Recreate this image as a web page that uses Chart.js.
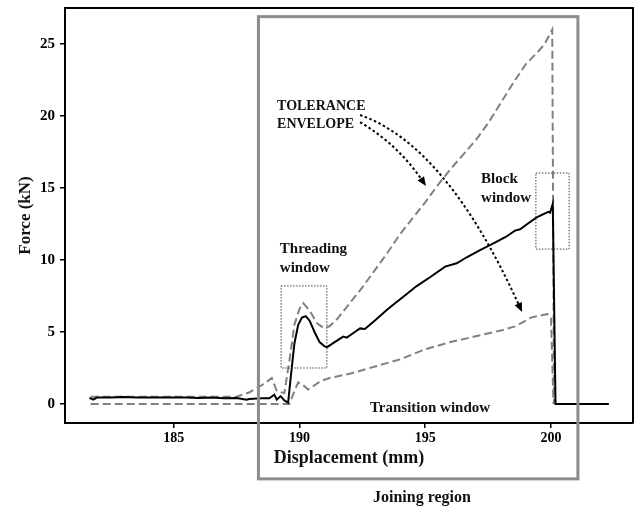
<!DOCTYPE html>
<html>
<head>
<meta charset="utf-8">
<script src="https://cdn.jsdelivr.net/npm/chart.js@4/dist/chart.umd.min.js"></script>
<style>
  html, body { margin: 0; padding: 0; background: #fff; }
  #wrap { width: 635px; height: 509px; }
</style>
</head>
<body>
<div id="wrap"><canvas id="chart" width="635" height="509"></canvas></div>
<script>
// Force vs displacement
const measuredX = [181.65, 181.8, 181.95, 182.5, 183.0, 183.5, 184.0, 184.5, 185.0, 185.5, 186.0, 186.5, 187.0, 187.5, 187.9, 188.0, 188.5, 188.8, 189.0, 189.1, 189.25, 189.4, 189.55, 189.65, 189.8, 189.95, 190.1, 190.25, 190.4, 190.6, 190.8, 191.0, 191.1, 191.4, 191.74, 191.88, 192.2, 192.41, 192.6, 193.0, 193.47, 193.8, 194.13, 194.66, 195.19, 195.79, 196.25, 196.65, 197.18, 197.71, 198.2, 198.57, 198.77, 199.1, 199.43, 199.89, 199.96, 200.07, 200.18, 202.3];
const measuredY = [0.42, 0.3, 0.45, 0.45, 0.48, 0.45, 0.45, 0.45, 0.45, 0.45, 0.42, 0.45, 0.4, 0.42, 0.3, 0.35, 0.4, 0.4, 0.65, 0.3, 0.55, 0.25, 0.1, 1.8, 4.2, 5.5, 6.0, 6.1, 5.8, 5.0, 4.3, 4.0, 3.95, 4.3, 4.68, 4.61, 5.0, 5.25, 5.21, 5.8, 6.53, 7.0, 7.45, 8.19, 8.8, 9.54, 9.77, 10.19, 10.69, 11.16, 11.6, 12.04, 12.13, 12.55, 12.96, 13.35, 13.28, 13.9, 0, 0];

const upperX = [181.7, 187.5, 188.0, 188.5, 188.9, 189.1, 189.4, 189.6, 189.8, 190.0, 190.15, 190.4, 190.7, 190.95, 191.2, 191.5, 192.0, 192.5, 193.0, 193.5, 194.0, 194.5, 195.0, 195.5, 196.0, 196.5, 197.0, 197.5, 198.0, 198.5, 199.0, 199.5, 199.75, 199.9, 200.05, 200.12];
const upperY = [0.5, 0.5, 0.8, 1.3, 1.8, 0.9, 0.75, 3.0, 5.5, 6.6, 7.0, 6.5, 5.6, 5.3, 5.4, 5.9, 7.0, 8.1, 9.3, 10.5, 11.8, 12.9, 14.0, 15.2, 16.3, 17.3, 18.3, 19.5, 20.9, 22.3, 23.6, 24.5, 25.0, 25.5, 26.0, 0];

const lowerX = [181.7, 189.6, 189.8, 189.95, 190.15, 190.35, 190.6, 190.85, 191.2, 192.0, 193.0, 194.0, 195.0, 196.0, 197.0, 198.0, 198.6, 199.2, 199.85, 200.0, 200.1];
const lowerY = [0, 0, 0.9, 1.5, 1.3, 1.0, 1.3, 1.6, 1.8, 2.1, 2.6, 3.1, 3.8, 4.3, 4.7, 5.1, 5.4, 6.0, 6.25, 6.0, 0];

const xTicks = [185, 190, 195, 200];
const yTicks = [0, 5, 10, 15, 20, 25];

const FONT = "'Liberation Serif', 'Times New Roman', serif";

function pts(xs, ys) {
  return xs.map((x, i) => ({ x: x, y: ys[i] }));
}

// annotation layout, in data units
const regionBox = [188.37, 26.9, 201.07, -5.2];
const threadBox = [189.27, 8.2, 191.09, 2.5];
const blockBox = [199.4, 16.04, 200.72, 10.76];
const labels = [
  { text: "TOLERANCE", x: 189.11, y: 20.69, size: 14, align: "left" },
  { text: "ENVELOPE", x: 189.11, y: 19.44, size: 14, align: "left" },
  { text: "Threading", x: 189.22, y: 10.76, size: 15, align: "left" },
  { text: "window", x: 189.22, y: 9.44, size: 15, align: "left" },
  { text: "Block", x: 197.22, y: 15.63, size: 15, align: "left" },
  { text: "window", x: 197.22, y: 14.31, size: 15, align: "left" },
  { text: "Transition window", x: 195.19, y: -0.28, size: 15, align: "center" },
  { text: "Joining region", x: 194.87, y: -6.53, size: 16, align: "center" }
];
const arrows = [
  [[192.41, 19.58], [193.92, 17.99], [195.03, 15.14]],
  [[192.41, 20.07], [195.83, 17.99], [198.85, 6.39]]
];

const annotations = {
  id: "annotations",
  afterDraw(chart) {
    const ctx = chart.ctx;
    const xs = chart.scales.x;
    const ys = chart.scales.y;
    const px = v => xs.getPixelForValue(v);
    const py = v => ys.getPixelForValue(v);
    const area = chart.chartArea;
    ctx.save();

    // frame top and right
    ctx.strokeStyle = "#000";
    ctx.lineWidth = 2;
    ctx.beginPath();
    ctx.moveTo(area.left, area.top);
    ctx.lineTo(area.right, area.top);
    ctx.lineTo(area.right, area.bottom);
    ctx.stroke();

    // joining region
    ctx.strokeStyle = "#8c8c8c";
    ctx.lineWidth = 3;
    ctx.strokeRect(px(regionBox[0]), py(regionBox[1]),
      px(regionBox[2]) - px(regionBox[0]), py(regionBox[3]) - py(regionBox[1]));

    // dotted windows
    ctx.strokeStyle = "#444";
    ctx.lineWidth = 1;
    ctx.setLineDash([1.5, 1.5]);
    [threadBox, blockBox].forEach(b => {
      ctx.strokeRect(px(b[0]), py(b[1]), px(b[2]) - px(b[0]), py(b[3]) - py(b[1]));
    });

    // dotted arrows
    ctx.strokeStyle = "#000";
    ctx.fillStyle = "#000";
    ctx.lineWidth = 2;
    arrows.forEach(a => {
      const p0 = [px(a[0][0]), py(a[0][1])];
      const c = [px(a[1][0]), py(a[1][1])];
      const p2 = [px(a[2][0]), py(a[2][1])];
      const ang = Math.atan2(p2[1] - c[1], p2[0] - c[0]);
      const back = 8;
      const end = [p2[0] - Math.cos(ang) * back, p2[1] - Math.sin(ang) * back];
      ctx.setLineDash([2.5, 2.5]);
      ctx.beginPath();
      ctx.moveTo(p0[0], p0[1]);
      ctx.quadraticCurveTo(c[0], c[1], end[0], end[1]);
      ctx.stroke();
      ctx.setLineDash([]);
      ctx.beginPath();
      ctx.moveTo(p2[0], p2[1]);
      ctx.lineTo(p2[0] - Math.cos(ang - 0.4) * 10, p2[1] - Math.sin(ang - 0.4) * 10);
      ctx.lineTo(p2[0] - Math.cos(ang + 0.4) * 10, p2[1] - Math.sin(ang + 0.4) * 10);
      ctx.closePath();
      ctx.fill();
    });

    // labels
    ctx.fillStyle = "#111";
    ctx.textBaseline = "middle";
    labels.forEach(l => {
      ctx.font = "bold " + l.size + "px " + FONT;
      ctx.textAlign = l.align;
      ctx.fillText(l.text, px(l.x), py(l.y));
    });
    ctx.restore();
  }
};

new Chart(document.getElementById("chart"), {
  type: "line",
  data: {
    datasets: [
      {
        label: "Measured",
        data: pts(measuredX, measuredY),
        borderColor: "#000",
        borderWidth: 2,
        pointRadius: 0,
        order: 0
      },
      {
        label: "Upper tolerance",
        data: pts(upperX, upperY),
        borderColor: "#808080",
        borderWidth: 2,
        borderDash: [8, 4],
        pointRadius: 0,
        order: 1
      },
      {
        label: "Lower tolerance",
        data: pts(lowerX, lowerY),
        borderColor: "#808080",
        borderWidth: 2,
        borderDash: [8, 4],
        pointRadius: 0,
        order: 2
      }
    ]
  },
  options: {
    responsive: false,
    animation: false,
    devicePixelRatio: 1,
    layout: { padding: { top: 8, right: 2, left: 0, bottom: 0 } },
    plugins: { legend: { display: false }, tooltip: { enabled: false } },
    scales: {
      x: {
        type: "linear",
        min: 180.68,
        max: 203.26,
        afterFit: s => { s.height = 86; s.paddingLeft = 0; s.paddingRight = 0; },
        afterBuildTicks: s => { s.ticks = xTicks.map(v => ({ value: v })); },
        grid: { drawOnChartArea: false, drawTicks: true, tickLength: 5, color: "#000", lineWidth: 1.5 },
        border: { display: true, color: "#000", width: 2 },
        ticks: { color: "#000", padding: 2, maxRotation: 0, font: { family: FONT, size: 14, weight: "bold" } },
        title: {
          display: true,
          text: "Displacement (mm)",
          color: "#111",
          font: { family: FONT, size: 18, weight: "bold" },
          padding: { top: 0, bottom: 40 }
        }
      },
      y: {
        min: -1.32,
        max: 27.5,
        afterFit: s => { s.width = 65; s.paddingTop = 0; s.paddingBottom = 0; },
        afterBuildTicks: s => { s.ticks = yTicks.map(v => ({ value: v })); },
        grid: { drawOnChartArea: false, drawTicks: true, tickLength: 5, color: "#000", lineWidth: 1.5 },
        border: { display: true, color: "#000", width: 2 },
        ticks: { color: "#000", padding: 5, font: { family: FONT, size: 15, weight: "bold" } },
        title: {
          display: true,
          text: "Force (kN)",
          color: "#111",
          font: { family: FONT, size: 17, weight: "bold" },
          padding: { top: 15, bottom: 0 }
        }
      }
    }
  },
  plugins: [annotations]
});
</script>
</body>
</html>
